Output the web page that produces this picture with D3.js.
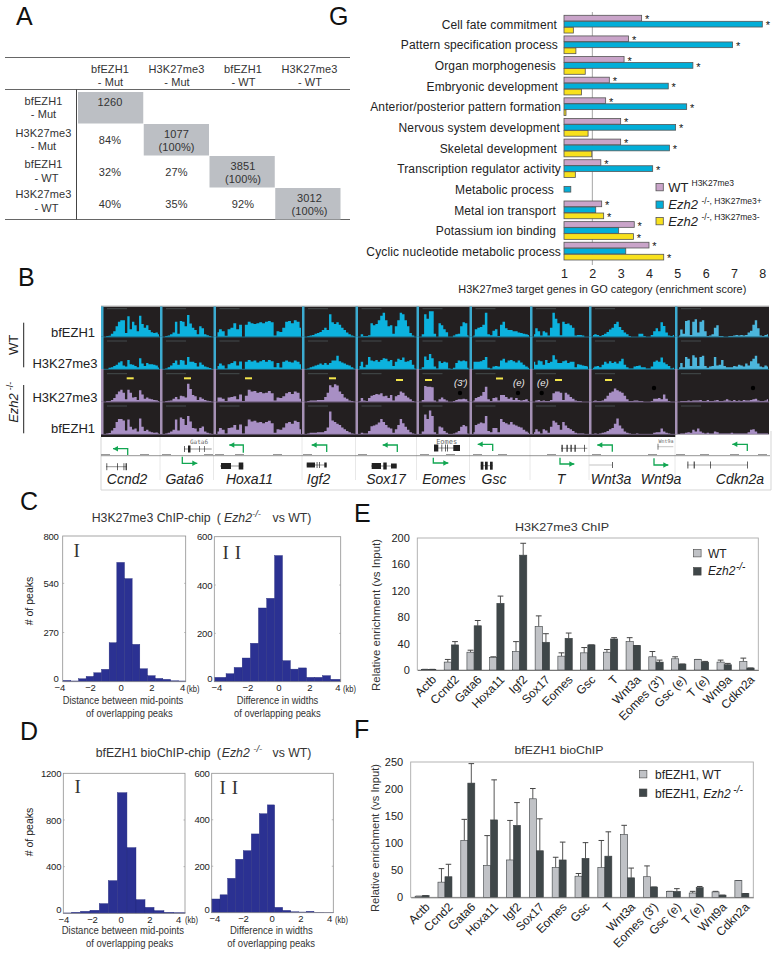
<!DOCTYPE html>
<html>
<head>
<meta charset="utf-8">
<style>
  body { margin: 0; background: #fff; }
  svg { display: block; font-family: "Liberation Sans", Arial, sans-serif; }
</style>
<script src="https://cdnjs.cloudflare.com/ajax/libs/d3/7.8.5/d3.min.js"></script>
</head>
<body>
<div id="fig"></div>
<script>
// panel A
const tableHeads = [['bfEZH1', '- Mut'], ['H3K27me3', '- Mut'], ['bfEZH1', '- WT'], ['H3K27me3', '- WT']]
const tableCells = [
  [['1260']],
  [['84%'], ['1077', '(100%)']],
  [['32%'], ['27%'], ['3851', '(100%)']],
  [['40%'], ['35%'], ['92%'], ['3012', '(100%)']],
]

// panel G
const goCategories = ['Cell fate commitment', 'Pattern specification process', 'Organ morphogenesis', 'Embryonic development',
  'Anterior/posterior pattern formation', 'Nervous system development', 'Skeletal development', 'Transcription regulator activity',
  'Metabolic process', 'Metal ion transport', 'Potassium ion binding', 'Cyclic nucleotide metabolic process']
const goWT = [3.74, 3.28, 3.12, 2.6, 2.47, 3.0, 3.0, 2.3, null, 2.33, 3.48, 4.0]
const goPlus = [8, 6.95, 5.55, 4.68, 5.33, 4.94, 4.72, 4.13, 1.24, 2.12, 2.93, 3.18]
const goMinus = [1.33, 1.42, 1.75, 1.62, 1.07, 1.85, 1.98, 1.4, null, 2.4, 3.45, 4.52]
const goStarWT = [1, 1, 1, 1, 1, 1, 1, 1, 0, 1, 1, 1]
const goStarPlus = [1, 1, 1, 1, 1, 1, 1, 1, 0, 0, 0, 0]
const goStarMinus = [0, 0, 0, 0, 0, 0, 0, 0, 0, 1, 1, 1]
const goLabelGap = [7, 6, 8, 6, 3, 4, 7, 3, 10, 8, 8, 3]
const goTicks = [1, 2, 3, 4, 5, 6, 7, 8]

// panel B, signal per track (WT bfEZH1, WT H3K27me3, Ezh2 H3K27me3, Ezh2 bfEZH1)
const ccnd2Track = [
  [0, 2, 3, 10, 18, 35, 50, 55, 55, 12, 68, 25, 50, 38, 18, 70, 42, 30, 38, 22, 15, 12, 14, 8],
  [0, 0, 4, 6, 10, 14, 22, 26, 12, 8, 30, 16, 14, 10, 6, 36, 18, 10, 20, 16, 16, 14, 12, 5],
  [0, 2, 2, 6, 12, 25, 34, 40, 30, 8, 40, 30, 14, 16, 6, 38, 24, 10, 14, 10, 8, 6, 5, 2],
  [0, 2, 3, 12, 20, 40, 50, 50, 45, 12, 48, 24, 15, 18, 8, 52, 24, 10, 14, 8, 6, 4, 5, 2],
]
const gata6Track = [
  [0, 2, 4, 8, 14, 50, 10, 52, 50, 35, 72, 44, 30, 22, 8, 35, 28, 8, 5, 2, 0],
  [0, 2, 6, 12, 20, 28, 14, 30, 28, 14, 40, 24, 24, 20, 8, 22, 14, 8, 6, 3, 0],
  [0, 2, 3, 4, 10, 16, 8, 20, 18, 14, 60, 42, 22, 18, 6, 15, 10, 6, 3, 2, 0],
  [0, 2, 4, 8, 14, 48, 12, 55, 50, 30, 60, 42, 20, 18, 8, 20, 25, 8, 4, 2, 0],
]
const hoxa11Track = [
  [15, 25, 18, 3, 25, 30, 45, 25, 40, 0, 40, 50, 45, 42, 45, 48, 45, 50, 52, 48, 4, 18, 16, 30, 50, 52, 45, 55, 50, 30],
  [10, 18, 12, 2, 16, 20, 26, 12, 25, 0, 24, 30, 25, 28, 22, 26, 30, 24, 30, 26, 6, 20, 5, 24, 28, 24, 22, 28, 24, 16],
  [14, 14, 10, 2, 14, 16, 18, 8, 24, 2, 20, 40, 34, 36, 30, 32, 28, 30, 36, 28, 4, 14, 12, 18, 28, 32, 26, 34, 30, 10],
  [8, 20, 14, 2, 20, 22, 30, 14, 32, 2, 26, 48, 42, 44, 38, 40, 36, 40, 44, 36, 4, 16, 14, 22, 36, 40, 34, 44, 40, 16],
]
const igf2Track = [
  [0, 2, 4, 6, 10, 12, 16, 22, 30, 22, 75, 48, 42, 48, 40, 30, 22, 14, 8, 4, 2],
  [0, 2, 6, 8, 12, 14, 18, 14, 20, 14, 20, 28, 28, 44, 26, 22, 18, 14, 12, 6, 2],
  [0, 2, 4, 4, 4, 6, 6, 6, 16, 30, 55, 48, 58, 54, 34, 26, 14, 10, 4, 2, 1],
  [0, 2, 4, 4, 4, 6, 6, 6, 10, 22, 75, 45, 40, 34, 30, 22, 16, 10, 6, 2, 1],
]
const sox17Track = [
  [0, 8, 2, 2, 5, 45, 38, 42, 55, 70, 80, 55, 35, 38, 10, 35, 55, 80, 75, 55, 35, 12, 4, 0],
  [10, 24, 6, 14, 40, 28, 26, 30, 24, 30, 36, 34, 26, 30, 10, 24, 34, 30, 38, 24, 26, 30, 14, 2],
  [2, 12, 4, 2, 12, 20, 22, 26, 24, 28, 18, 20, 12, 22, 4, 18, 22, 34, 30, 20, 14, 8, 2, 0],
  [0, 4, 2, 2, 10, 26, 28, 32, 38, 50, 40, 30, 22, 18, 4, 16, 30, 50, 36, 24, 14, 6, 2, 0],
]
const eomesTrack = [
  [0, 8, 75, 60, 85, 85, 10, 0, 45, 38, 25, 15, 0, 0, 4, 8, 10, 35, 48, 45, 5],
  [0, 6, 42, 30, 50, 36, 8, 2, 26, 20, 24, 22, 2, 0, 4, 20, 28, 26, 28, 26, 4],
  [0, 6, 52, 50, 50, 48, 4, 0, 8, 14, 8, 4, 0, 0, 2, 6, 8, 8, 10, 8, 2],
  [0, 8, 65, 50, 78, 60, 6, 0, 25, 22, 10, 4, 0, 0, 2, 5, 10, 24, 30, 26, 2],
]
const gscTrack = [
  [4, 25, 30, 32, 40, 80, 8, 5, 20, 25, 2, 40, 50, 28, 22, 22, 18, 18, 14, 12, 10, 8, 6],
  [24, 24, 24, 26, 30, 40, 4, 2, 8, 10, 8, 28, 34, 22, 28, 30, 26, 22, 28, 22, 14, 8, 4],
  [4, 12, 16, 20, 32, 50, 8, 2, 12, 14, 4, 22, 22, 16, 10, 14, 6, 12, 6, 4, 6, 8, 2],
  [6, 30, 34, 38, 36, 60, 10, 6, 20, 20, 6, 50, 40, 36, 32, 40, 32, 28, 24, 22, 14, 8, 4],
]
const tTrack = [
  [8, 28, 18, 4, 18, 14, 4, 30, 80, 60, 45, 5, 50, 42, 44, 38, 30, 4, 6, 6, 4, 0, 0],
  [24, 14, 28, 26, 14, 30, 20, 24, 46, 32, 20, 20, 26, 28, 20, 24, 24, 6, 16, 14, 12, 10, 8],
  [0, 4, 6, 2, 4, 2, 2, 6, 28, 34, 34, 30, 6, 30, 24, 16, 10, 4, 2, 2, 0, 0, 0],
  [6, 16, 8, 2, 16, 12, 4, 24, 44, 38, 30, 14, 40, 28, 20, 16, 10, 4, 2, 2, 2, 0, 0],
]
const wntTrack = [
  [6, 8, 6, 2, 6, 10, 16, 24, 30, 42, 50, 32, 22, 14, 8, 2, 0, 0, 0, 10, 10, 2, 0, 0, 6, 18, 28, 18, 48, 36, 14, 4, 2, 6],
  [4, 8, 10, 6, 14, 24, 18, 26, 20, 24, 18, 26, 34, 14, 6, 2, 2, 8, 10, 12, 6, 6, 2, 2, 8, 24, 28, 24, 38, 22, 16, 10, 2, 4],
  [2, 4, 2, 2, 4, 10, 20, 30, 34, 44, 38, 34, 30, 20, 8, 2, 2, 4, 4, 2, 2, 0, 0, 0, 2, 10, 10, 12, 8, 24, 10, 2, 0, 0],
  [0, 2, 0, 2, 4, 6, 10, 16, 20, 34, 52, 28, 18, 8, 4, 2, 0, 0, 2, 0, 0, 0, 0, 0, 0, 4, 6, 6, 18, 8, 4, 2, 0, 0],
]
const cdkn2aTrack = [
  [4, 24, 10, 52, 55, 6, 50, 58, 14, 50, 55, 18, 2, 4, 8, 30, 38, 2, 2, 0, 0, 2, 2, 4, 6, 4, 6, 4, 6, 14, 20, 40, 55, 28, 4, 2, 6, 8],
  [6, 20, 6, 40, 34, 10, 46, 38, 10, 40, 44, 10, 4, 8, 10, 40, 12, 14, 30, 10, 6, 6, 6, 10, 8, 14, 12, 8, 18, 12, 26, 34, 44, 18, 8, 6, 12, 8],
  [0, 2, 2, 2, 4, 2, 4, 4, 4, 6, 2, 2, 6, 2, 2, 4, 6, 2, 2, 4, 8, 4, 2, 6, 2, 4, 2, 6, 4, 4, 6, 8, 10, 4, 2, 2, 4, 8],
  [0, 2, 2, 4, 6, 4, 14, 8, 18, 8, 4, 2, 4, 2, 2, 8, 6, 2, 2, 2, 2, 2, 4, 2, 2, 2, 2, 2, 2, 6, 14, 16, 8, 2, 2, 2, 2, 2],
]
const allTracks = [ccnd2Track, gata6Track, hoxa11Track, igf2Track, sox17Track, eomesTrack, gscTrack, tTrack, wntTrack, cdkn2aTrack]
const geneNames = ['Ccnd2', 'Gata6', 'Hoxa11', 'Igf2', 'Sox17', 'Eomes', 'Gsc', 'T', 'Wnt3a', 'Wnt9a', 'Cdkn2a']

// panels C and D, histogram bin edges in kb and peak counts
const c1Edges = [-3.75, -3.25, -2.75, -2.25, -1.75, -1.25, -0.75, -0.25, 0.25, 0.75, 1.25, 1.75, 2.25, 2.75, 3.25, 3.75, 4.25]
const c1Counts = [7, 4, 16, 29, 49, 68, 214, 655, 566, 205, 71, 33, 18, 13, 5, 4]
const c2Edges = [-4.13, -3.37, -2.85, -2.33, -1.8, -1.28, -0.75, -0.24, 0.27, 0.78, 1.3, 1.82, 2.33, 2.85, 3.37, 4.02]
const c2Counts = [18, 33, 59, 98, 159, 305, 345, 522, 87, 52, 57, 18, 18, 25, 10]
const d1Edges = [-4, -3.42, -2.79, -2.14, -1.49, -0.86, -0.23, 0.44, 1.07, 1.7, 2.33, 3.02, 3.67, 4.49]
const d1Counts = [3, 9, 17, 26, 83, 280, 1034, 563, 117, 51, 23, 9, 6]
const d2Edges = [-4.19, -3.6, -3.07, -2.51, -1.98, -1.42, -0.86, -0.3, 0.21, 0.77, 1.33, 1.87, 2.42, 2.95, 3.63, 4.33]
const d2Counts = [59, 77, 148, 230, 267, 339, 426, 464, 23, 10, 4, 3, 6, 2, 1]
const kbTicks = [-4, -2, 0, 2, 4]

// panels E and F
const eCategories = ['Actb', 'Ccnd2', 'Gata6', 'Hoxa11', 'Igf2', 'Sox17', 'Eomes', 'Gsc', 'T', 'Wnt3a', 'Eomes (3\')', 'Gsc (e)', 'T (e)', 'Wnt9a', 'Cdkn2a']
const eWT = [1, 12, 27, 19, 28, 66, 21, 26, 27, 43, 20, 17, 16, 12, 13]
const eWTErr = [1, 16, 30, 20, 43, 82, 26, 34, 31, 49, 28, 20, 16, 15, 18]
const eKO = [1, 38, 67, 101, 174, 42, 48, 38, 47, 37, 12, 9, 12, 8, 3]
const eKOErr = [1, 43, 75, 112, 192, 55, 56, 38, 49, 37, 15, 9, 13, 10, 3]
const eTicks = [0, 40, 80, 120, 160, 200]

const fCategories = ['Actb', 'Ccnd2', 'Gata6', 'Hoxa11', 'Igf2', 'Sox17', 'Eomes', 'Gsc', 'T', 'Wnt3a', 'Eomes (3\')', 'Gsc (e)', 'T (e)', 'Wnt9a', 'Cdkn2a']
const fWT = [2, 28, 105, 59, 69, 182, 55, 39, 55, 116, 38, 11, 8, 10, 31]
const fWTErr = [2, 53, 144, 114, 142, 201, 74, 44, 105, 133, 58, 11, 11, 11, 31]
const fKO = [3, 38, 211, 143, 133, 86, 69, 72, 76, 36, 19, 11, 18, 4, 7]
const fKOErr = [3, 61, 247, 217, 175, 145, 102, 101, 121, 54, 19, 16, 20, 4, 7]
const fTicks = [0, 50, 100, 150, 200, 250]

const w = 782
const h = 955
const ink = '#222'

const svg = d3.select('#fig').append('svg').attr('width', w).attr('height', h)

function txt(x, y, s, o = {}) {
  const t = svg.append('text')
    .attr('x', x).attr('y', y)
    .attr('font-size', o.size || 11)
    .attr('fill', o.color || ink)
    .attr('text-anchor', o.anchor || 'start')
    .text(s)
  if (o.italic) t.attr('font-style', 'italic')
  if (o.fit) t.attr('textLength', o.fit).attr('lengthAdjust', 'spacingAndGlyphs')
  if (o.family) t.attr('font-family', o.family)
  if (o.spacing) t.attr('letter-spacing', o.spacing)
  if (o.rotate) t.attr('transform', `rotate(${o.rotate} ${x} ${y})`)
  return t
}

function rule(x1, y1, x2, y2, color = '#666', width = 1) {
  svg.append('line').attr('x1', x1).attr('y1', y1).attr('x2', x2).attr('y2', y2)
    .attr('stroke', color).attr('stroke-width', width)
}

// panel letters
const letters = [['A', 16, 25], ['G', 329, 25], ['B', 18, 286], ['C', 20, 510], ['D', 20, 740], ['E', 354, 522], ['F', 354, 738]]
letters.forEach(l => txt(l[1], l[2], l[0], {size: 25, color: '#111'}))

// ---- A: overlap table
const colX = d3.scalePoint().domain(d3.range(4)).range([110, 309.5])
const rowY = d3.scaleBand().domain(d3.range(4)).range([92, 220])
const cellX = d3.scaleBand().domain(d3.range(4)).range([78, 341])
const rowBase = [105, 136.7, 168.3, 198.3]
const tableFont = {size: 11, spacing: 0.1, color: '#333', anchor: 'middle'}

rule(5, 57.5, 350, 57.5)
rule(5, 89.5, 350, 89.5)
rule(5, 219.5, 350, 219.5)
rule(76.5, 89.5, 76.5, 219.5, '#444')

tableHeads.forEach((d, i) => {
  txt(colX(i), 72.7, d[0], tableFont)
  txt(colX(i) + 0.5, 86, d[1], tableFont)
  txt(43.5, rowBase[i], d[0], tableFont)
  txt(43.5 + (d[1] === '- WT' ? 3 : 0), rowBase[i] + 13.3, d[1], tableFont)
})

tableCells.forEach((row, r) => {
  row.forEach((cell, c) => {
    if (r === c) {
      svg.append('rect').attr('x', cellX(c)).attr('y', rowY(r))
        .attr('width', cellX.bandwidth() - 0.5).attr('height', rowY.bandwidth() - 0.5).attr('fill', '#bcbfc4')
    }
    const y = rowY(r) + (cell.length > 1 ? 13.5 : 20)
    cell.forEach((line, i) => {
      txt(colX(c), y + i * 13.4 + (r === 0 && c === 0 ? -6 : 0), line, tableFont)
    })
  })
})

// ---- G: GO enrichment bars
const goX = d3.scaleLinear().domain([1, 8]).range([564, 762.3])
const goY = d3.scaleBand().domain(goCategories).range([15.3, 260.3]).paddingInner(0.126).paddingOuter(0)
const goInner = d3.scaleBand().domain(['wt', 'plus', 'minus']).range([0, goY.bandwidth()])

const goSeries = [
  {key: 'wt', values: goWT, stars: goStarWT, fill: '#c9a4c9'},
  {key: 'plus', values: goPlus, stars: goStarPlus, fill: '#02aed8'},
  {key: 'minus', values: goMinus, stars: goStarMinus, fill: '#f8e11d'},
]

rule(goX(2), 12, goX(2), 265, '#a5a5a5')

goSeries.forEach(s => {
  const g = svg.append('g')
  g.selectAll('rect')
    .data(goCategories.map((c, i) => ({c, v: s.values[i]})).filter(d => d.v !== null))
    .enter()
    .append('rect')
    .attr('x', goX(1))
    .attr('y', d => goY(d.c) + goInner(s.key))
    .attr('width', d => goX(d.v) - goX(1))
    .attr('height', goInner.bandwidth() - 0.3)
    .attr('fill', s.fill)
    .attr('stroke', '#555')
    .attr('stroke-width', 0.8)
  g.selectAll('text')
    .data(goCategories.map((c, i) => ({c, v: s.values[i], on: s.stars[i]})).filter(d => d.on))
    .enter()
    .append('text')
    .attr('x', d => goX(d.v) + 5.5)
    .attr('y', d => goY(d.c) + goInner(s.key) + 8)
    .attr('text-anchor', 'middle')
    .attr('font-size', 11)
    .attr('fill', '#111')
    .text('*')
})

goCategories.forEach((c, i) => {
  txt(goX(1) - goLabelGap[i], goY(c) + goInner('plus') + 7.5, c, {anchor: 'end', size: 12, spacing: 0.13})
})

svg.append('g')
  .attr('transform', 'translate(0, 266)')
  .call(d3.axisBottom(goX).tickValues(goTicks).tickSize(0).tickPadding(3).tickFormat(d3.format('d')))
  .call(g => g.select('.domain').remove())
  .selectAll('text').attr('font-size', 12.5).attr('font-family', 'Liberation Sans').attr('fill', ink)

txt(458.3, 293, 'H3K27me3 target genes in GO category (enrichment score)', {size: 10.5, fit: 288})

const goLegend = [
  {fill: '#c9a4c9', y: 183.5, main: 'WT', sup: 'H3K27me3', italic: false, supX: 691.5},
  {fill: '#02aed8', y: 201, main: 'Ezh2', sup: '-/-, H3K27me3+', italic: true, supX: 701.5},
  {fill: '#f8e11d', y: 217.5, main: 'Ezh2', sup: '-/-, H3K27me3-', italic: true, supX: 701.5},
]
goLegend.forEach(l => {
  svg.append('rect').attr('x', 656).attr('y', l.y).attr('width', 7.3).attr('height', 7.3)
    .attr('fill', l.fill).attr('stroke', '#555').attr('stroke-width', 0.8)
  txt(668.3, l.y + 8, l.main, {size: 13, italic: l.italic})
  txt(l.supX, l.y + 2.5, l.sup, {size: 8.5})
})

// ---- B: genome browser tracks
const colEdges = [101, 160, 213.5, 302, 355.5, 416.5, 469.5, 530, 589, 675, 769]
const trackBase = [336.7, 369, 401.7, 434]
const trackY = d3.scaleLinear().domain([0, 100]).range([0, -30])

svg.append('rect').attr('x', 101).attr('y', 306.5).attr('width', 668).attr('height', 130.5).attr('fill', '#231f20')
rule(101, 306, 769, 306, '#bbb', 1)

allTracks.forEach((track, c) => {
  const left = colEdges[c]
  const right = colEdges[c + 1]
  track.forEach((vals, r) => {
    const col = r < 2 ? (c === 9 ? '#4cb6dc' : '#0cb2de') : '#a88fc4'
    const x = d3.scaleLinear().domain([0, vals.length - 1]).range([left + 4, right - 1])
    const area = d3.area()
      .x((d, i) => x(i))
      .y0(trackBase[r])
      .y1(d => trackBase[r] + trackY(d))
      .curve(d3.curveStep)
    svg.append('path').datum(vals).attr('d', area).attr('fill', col)
    rule(left, trackBase[r] + 0.3, right, trackBase[r] + 0.3, r < 2 ? '#1d7f9e' : '#7d6b90', 0.8)
    rule(left + 6, trackBase[r] - 28, left + 26, trackBase[r] - 28, '#4c5558', 0.8)
    svg.append('rect').attr('x', left).attr('y', r === 0 ? 306.5 : trackBase[r - 1]).attr('width', 2.5)
      .attr('height', r === 0 ? 30.2 : trackBase[r] - trackBase[r - 1]).attr('fill', r < 2 ? '#3cabd0' : '#a591b5')
  })
})
// Cdkn2a block stops a little short of the others
svg.append('rect').attr('x', 675.3).attr('y', 434.5).attr('width', 95).attr('height', 3).attr('fill', '#fff')

// peak markers on the Ezh2 H3K27me3 row
const yellowBars = [[126.7, 378.3], [184, 378.3], [245, 378.3], [329, 378.3], [396, 380], [425, 380], [496, 378.5], [555, 380], [605, 380]]
yellowBars.forEach(d => svg.append('rect').attr('x', d[0]).attr('y', d[1] - 1).attr('width', 7).attr('height', 2).attr('fill', '#f4e64c'))
const blackDots = [[460, 393], [518, 393], [541.7, 393], [654, 388], [753, 388]]
blackDots.forEach(d => svg.append('circle').attr('cx', d[0]).attr('cy', d[1]).attr('r', 2.2).attr('fill', '#000'))
txt(454, 386, '(3\')', {size: 9.5, italic: true, color: '#eee'})
txt(513, 386, '(e)', {size: 9.5, italic: true, color: '#eee'})
txt(537, 386, '(e)', {size: 9.5, italic: true, color: '#eee'})

// row labels
txt(95, 337.3, 'bfEZH1', {anchor: 'end', size: 13})
txt(97.5, 368.3, 'H3K27me3', {anchor: 'end', size: 13})
txt(97.5, 401.7, 'H3K27me3', {anchor: 'end', size: 13})
txt(95, 432.7, 'bfEZH1', {anchor: 'end', size: 13})
txt(18, 345, 'WT', {anchor: 'middle', size: 13, rotate: -90})
txt(18, 408, 'Ezh2', {anchor: 'middle', size: 13, rotate: -90, italic: true})
txt(13, 386, '-/-', {anchor: 'middle', size: 9, rotate: -90})
rule(23.7, 322.7, 23.7, 367.3, '#222', 1)
rule(23.7, 385, 23.7, 433.3, '#222', 1)

// gene strip
rule(101, 437, 101, 490, '#d5d5d5')
rule(101, 490, 771, 490, '#d5d5d5')
rule(771, 431, 771, 490, '#d5d5d5')
colEdges.slice(1, -1).forEach(x => rule(x, 437, x, 480, '#e2e2e2', 0.8))
rule(101, 455.7, 770, 455.7, '#777', 0.8)

const scaleBlobs = [101, 140, 162, 204, 215, 235, 273, 303, 358, 420, 446, 473, 498, 547, 592, 648, 676, 700, 730, 758]
scaleBlobs.forEach(x => rule(x, 454.5, x + 9, 454.5, '#999', 1))

const genePos = [127, 184.5, 249.5, 318.5, 386, 444, 494, 561, 611, 661, 740]
geneNames.forEach((g, i) => txt(genePos[i], 484, g, {anchor: 'middle', size: 14, italic: true}))

function tss(vx, tip, y0, y1) {
  const green = '#12a652'
  svg.append('path').attr('d', d3.line()([[vx, y0], [vx, y1], [tip, y1]]))
    .attr('fill', 'none').attr('stroke', green).attr('stroke-width', 1.3)
  const dir = tip > vx ? -1 : 1
  svg.append('path').attr('d', d3.line()([[tip, y1], [tip + dir * 5, y1 - 2.8], [tip + dir * 5, y1 + 2.8]]))
    .attr('fill', green)
}
tss(127.7, 113, 455, 448.7)
tss(182.3, 197.3, 456.7, 463.3)
tss(243.3, 229.3, 452.7, 445)
tss(326.7, 311.7, 452, 445)
tss(397.3, 382.7, 452, 445)
tss(433.3, 448.3, 457.7, 463)
tss(492.7, 477.7, 451, 444.3)
tss(560, 574.3, 457.7, 464)
tss(612.3, 597.3, 451.7, 445)
tss(654, 668.3, 458.3, 465)
tss(747.3, 732.3, 451, 444.3)

function gene(y, x1, x2, exons, color = '#666') {
  rule(x1, y, x2, y, color, 0.7)
  exons.forEach(e => svg.append('rect').attr('x', e[0]).attr('y', y - e[2] / 2).attr('width', e[1] - e[0]).attr('height', e[2]).attr('fill', '#222'))
}
gene(466.7, 106, 126.7, [[106.5, 107.2, 7], [117, 117.7, 7], [123.6, 124.3, 7], [125.6, 126.8, 7]])
gene(449, 184, 211.7, [[184, 184.7, 6], [188, 190.5, 7], [199, 199.6, 6], [204, 204.6, 6]])
gene(466, 220, 243.3, [[221, 231, 6], [238.7, 243.3, 7]])
gene(465, 306.7, 326.7, [[306.7, 315, 5], [316.7, 317.4, 6], [319.3, 320, 6], [324.3, 326.7, 5]])
gene(466, 371, 396.7, [[371.7, 381, 6], [383.3, 386.7, 7], [391, 396.7, 5]])
gene(448, 434, 460, [[434, 438.3, 7], [441.5, 442.2, 7], [445, 445.7, 7], [447.3, 448, 7], [453.3, 460, 6]])
gene(465.7, 480.7, 492.7, [[480.7, 483.4, 8], [485, 487.7, 8], [490, 492.7, 8]])
gene(448.3, 561, 587.3, [[561.5, 562.7, 7], [566.5, 567.7, 7], [570.5, 571.7, 7], [574.5, 575.7, 7], [584, 584.7, 7]])
gene(465, 589.3, 612.3, [[612, 612.7, 6]], '#aaa')
gene(446.7, 657.7, 673.3, [[657.7, 658.3, 6]], '#aaa')
gene(465, 687.3, 747.3, [[687.5, 688.3, 7], [693.7, 694.7, 7], [710, 710.7, 7], [747, 747.7, 7]], '#888')
txt(199, 444, 'Gata6', {anchor: 'middle', size: 6, color: '#666', family: 'DejaVu Sans Mono'})
txt(446.7, 444, 'Eomes', {anchor: 'middle', size: 7, color: '#666', family: 'DejaVu Sans Mono'})
txt(666, 442.7, 'Wnt9a', {anchor: 'middle', size: 5, color: '#666', family: 'DejaVu Sans Mono'})

// ---- C, D: histograms
function drawHist(o) {
  const x = d3.scaleLinear().domain([-4, 4]).range(o.xRange)
  const y = d3.scaleLinear().domain([0, o.yMax]).range([o.bottom, o.top])
  const g = svg.append('g')
  g.selectAll('rect')
    .data(o.counts)
    .enter()
    .append('rect')
    .attr('x', (d, i) => x(o.edges[i]))
    .attr('width', (d, i) => x(o.edges[i + 1]) - x(o.edges[i]))
    .attr('y', d => y(d))
    .attr('height', d => y(0) - y(d))
    .attr('fill', '#2b3192')
    .attr('stroke', '#232a7c')
    .attr('stroke-width', 0.4)
  g.append('rect').attr('x', o.box[0]).attr('y', o.top).attr('width', o.box[1] - o.box[0]).attr('height', o.bottom - o.top)
    .attr('fill', 'none').attr('stroke', '#8f8f8f').attr('stroke-width', 0.8)

  o.yTicks.slice(1, -1).forEach(t => {
    rule(o.box[0], y(t), o.box[0] + 1.5, y(t), '#999', 0.7)
    rule(o.box[1] - 1.5, y(t), o.box[1], y(t), '#999', 0.7)
  })

  svg.append('g').attr('transform', `translate(0, ${o.bottom})`)
    .call(d3.axisBottom(x).tickValues(kbTicks).tickSize(0).tickPadding(2.5).tickFormat(d3.format('d')))
    .call(a => a.select('.domain').remove())
    .selectAll('text').attr('font-size', 9.5).attr('font-family', 'Liberation Sans').attr('fill', ink)
    .attr('letter-spacing', -0.2)
    .attr('dx', d => d === 4 ? (o.lastDx || 0) : 0)

  svg.append('g').attr('transform', `translate(${o.box[0]}, 0)`)
    .call(d3.axisLeft(y).tickValues(o.yTicks).tickSize(0).tickPadding(o.yPad).tickFormat(d3.format('d')))
    .call(a => a.select('.domain').remove())
    .selectAll('text').attr('font-size', 9.5).attr('font-family', 'Liberation Sans').attr('fill', ink)
    .attr('letter-spacing', -0.2)
    .attr('dy', d => d === 0 ? '-0.05em' : '0.32em')

  txt(o.kbX, o.bottom + 9.8, '(kb)', {size: 9, fit: 13})
  txt(o.label1[0], o.bottom + o.labelDy, o.label1[2], {size: 10, fit: o.label1[1], color: '#333'})
  txt(o.label2[0], o.bottom + o.labelDy + 13.3, o.label2[2], {size: 10.5, fit: o.label2[1], color: '#333'})
  txt(o.numeral[0], o.numeral[1], o.numeral[2], {size: 19, family: 'Liberation Serif', color: '#333', spacing: o.numeral[3]})
}

drawHist({edges: c1Edges, counts: c1Counts, xRange: [59.3, 182], yMax: 800, yTicks: [0, 270, 540, 800], top: 536, bottom: 681.7,
  box: [62.7, 185.7], yPad: 4, kbX: 186.5, labelDy: 22.3,
  label1: [62.7, 120.6, 'Distance between mid-points'], label2: [86, 86.7, 'of overlapping peaks'], numeral: [73.5, 557, 'I', 0]})
drawHist({edges: c2Edges, counts: c2Counts, xRange: [216.3, 340.3], yMax: 600, yTicks: [0, 200, 400, 600], top: 536.7, bottom: 681.7,
  box: [214.3, 340.7], yPad: 2, kbX: 343, labelDy: 22.3, lastDx: -3,
  label1: [236.7, 81.6, 'Difference in widths'], label2: [234, 86.7, 'of overlapping peaks'], numeral: [222.5, 559, 'II', 6]})
drawHist({edges: d1Edges, counts: d1Counts, xRange: [63.3, 178], yMax: 1200, yTicks: [0, 400, 800, 1200], top: 773.3, bottom: 913.3,
  box: [63.3, 185], yPad: 2, kbX: 185, labelDy: 20.7,
  label1: [61.7, 122.3, 'Distance between mid-points'], label2: [86, 87.3, 'of overlapping peaks'], numeral: [74.5, 793.3, 'I', 0]})
drawHist({edges: d2Edges, counts: d2Counts, xRange: [214.3, 329], yMax: 600, yTicks: [0, 200, 400, 600], top: 773.3, bottom: 912.7,
  box: [211.7, 333.3], yPad: 2, kbX: 335, labelDy: 21.3,
  label1: [230, 82.7, 'Difference in widths'], label2: [227.3, 87.7, 'of overlapping peaks'], numeral: [219.5, 794, 'II', 6]})

txt(33, 601, '# of peaks', {anchor: 'middle', size: 10.5, rotate: -90})
txt(33, 832, '# of peaks', {anchor: 'middle', size: 10.5, rotate: -90})

function chipTitle(left, width, title, y, ezhX, supX) {
  txt(left, y, title, {size: 12.3, fit: width, color: '#333'})
  txt(216.7, y, '(', {size: 12.3, color: '#333'})
  txt(ezhX, y, 'Ezh2', {size: 12.3, italic: true, color: '#333'})
  txt(supX, y - 5.5, '-/-', {size: 9.5, italic: true, color: '#333'})
  txt(272.5, y, 'vs WT)', {size: 12.3, color: '#333'})
}
chipTitle(91.7, 119, 'H3K27me3 ChIP-chip', 522.3, 224, 252)
chipTitle(95.7, 115, 'bfEZH1 bioChIP-chip', 757.3, 221.7, 253.3)

// ---- E, F: grouped bars with error caps
function drawBars(o) {
  const x = d3.scaleBand().domain(o.categories).range([o.left, o.right])
  const y = d3.scaleLinear().domain([0, o.yMax]).range([o.bottom, o.top])
  const barW = o.barW

  svg.append('rect').attr('x', o.left).attr('y', o.top).attr('width', o.right - o.left).attr('height', o.bottom - o.top)
    .attr('fill', 'none').attr('stroke', '#ababab').attr('stroke-width', 0.9)

  o.series.forEach((s, k) => {
    const g = svg.append('g')
    const rows = o.categories.map((c, i) => ({c, v: s.values[i], e: s.errs[i]}))
    const barX = d => x(d.c) + x.bandwidth() / 2 + (k - 1) * barW

    g.selectAll('line.err').data(rows).enter().append('line').attr('class', 'err')
      .attr('x1', d => barX(d) + barW / 2).attr('x2', d => barX(d) + barW / 2)
      .attr('y1', d => y(d.v)).attr('y2', d => y(d.e))
      .attr('stroke', '#444').attr('stroke-width', 0.9)
    g.selectAll('line.cap').data(rows).enter().append('line').attr('class', 'cap')
      .attr('x1', d => barX(d) + 0.7).attr('x2', d => barX(d) + barW - 0.7)
      .attr('y1', d => y(d.e)).attr('y2', d => y(d.e))
      .attr('stroke', '#444').attr('stroke-width', 1)

    g.selectAll('rect').data(rows).enter().append('rect')
      .attr('x', barX).attr('width', barW)
      .attr('y', d => y(d.v)).attr('height', d => y(0) - y(d.v))
      .attr('fill', s.fill).attr('stroke', '#3a3f41').attr('stroke-width', 0.6)
  })

  svg.append('g').attr('transform', `translate(0, ${o.bottom})`)
    .call(d3.axisBottom(x).tickSize(0).tickPadding(0))
    .call(a => a.select('.domain').attr('stroke', '#777'))
    .selectAll('text')
    .attr('font-size', 12).attr('font-family', 'Liberation Sans').attr('fill', ink)
    .attr('text-anchor', 'end')
    .attr('transform', 'translate(5, 7) rotate(-45)')
    .attr('dy', '0.4em')

  svg.append('g').attr('transform', `translate(${o.left}, 0)`)
    .call(d3.axisLeft(y).tickValues(o.yTicks).tickSize(0).tickPadding(o.yPad))
    .call(a => a.select('.domain').remove())
    .selectAll('text').attr('font-size', 11).attr('font-family', 'Liberation Sans').attr('fill', ink)
}

const wtFill = '#c0c2c6'
const koFill = '#3f4749'
drawBars({categories: eCategories, left: 417.3, right: 758.3, top: 538, bottom: 670, yMax: 200, yTicks: eTicks, yPad: 7.5, barW: 7.2,
  series: [{values: eWT, errs: eWTErr, fill: wtFill}, {values: eKO, errs: eKOErr, fill: koFill}]})
drawBars({categories: fCategories, left: 410.7, right: 753.3, top: 762, bottom: 897.3, yMax: 250, yTicks: fTicks, yPad: 7.5, barW: 7,
  series: [{values: fWT, errs: fWTErr, fill: wtFill}, {values: fKO, errs: fKOErr, fill: koFill}]})

txt(562, 530.7, 'H3K27me3 ChIP', {anchor: 'middle', size: 11.5, color: '#333', fit: 94})
txt(559, 754, 'bfEZH1 bioChIP', {anchor: 'middle', size: 11.5, color: '#333', fit: 89})
txt(380, 615, 'Relative enrichment (vs Input)', {anchor: 'middle', size: 11, rotate: -90, fit: 152, color: '#333'})
txt(379, 838, 'Relative enrichment (vs Input)', {anchor: 'middle', size: 11, rotate: -90, fit: 148, color: '#333'})

function swatch(x, y, fill) {
  svg.append('rect').attr('x', x).attr('y', y).attr('width', 7.6).attr('height', 7.6)
    .attr('fill', fill).attr('stroke', '#444').attr('stroke-width', 0.6)
}
swatch(693.5, 549.3, wtFill)
txt(708, 557.7, 'WT', {size: 12})
swatch(693.5, 567.5, koFill)
txt(708, 575, 'Ezh2', {size: 12, italic: true})
txt(736, 569.5, '-/-', {size: 10, italic: true})

swatch(639.3, 770.3, wtFill)
txt(655, 779, 'bfEZH1, WT', {size: 12})
swatch(639.3, 789, koFill)
txt(655, 797.7, 'bfEZH1,', {size: 12})
txt(703.3, 797.7, 'Ezh2', {size: 12, italic: true})
txt(733.3, 793, '-/-', {size: 10, italic: true})
</script>
</body>
</html>
